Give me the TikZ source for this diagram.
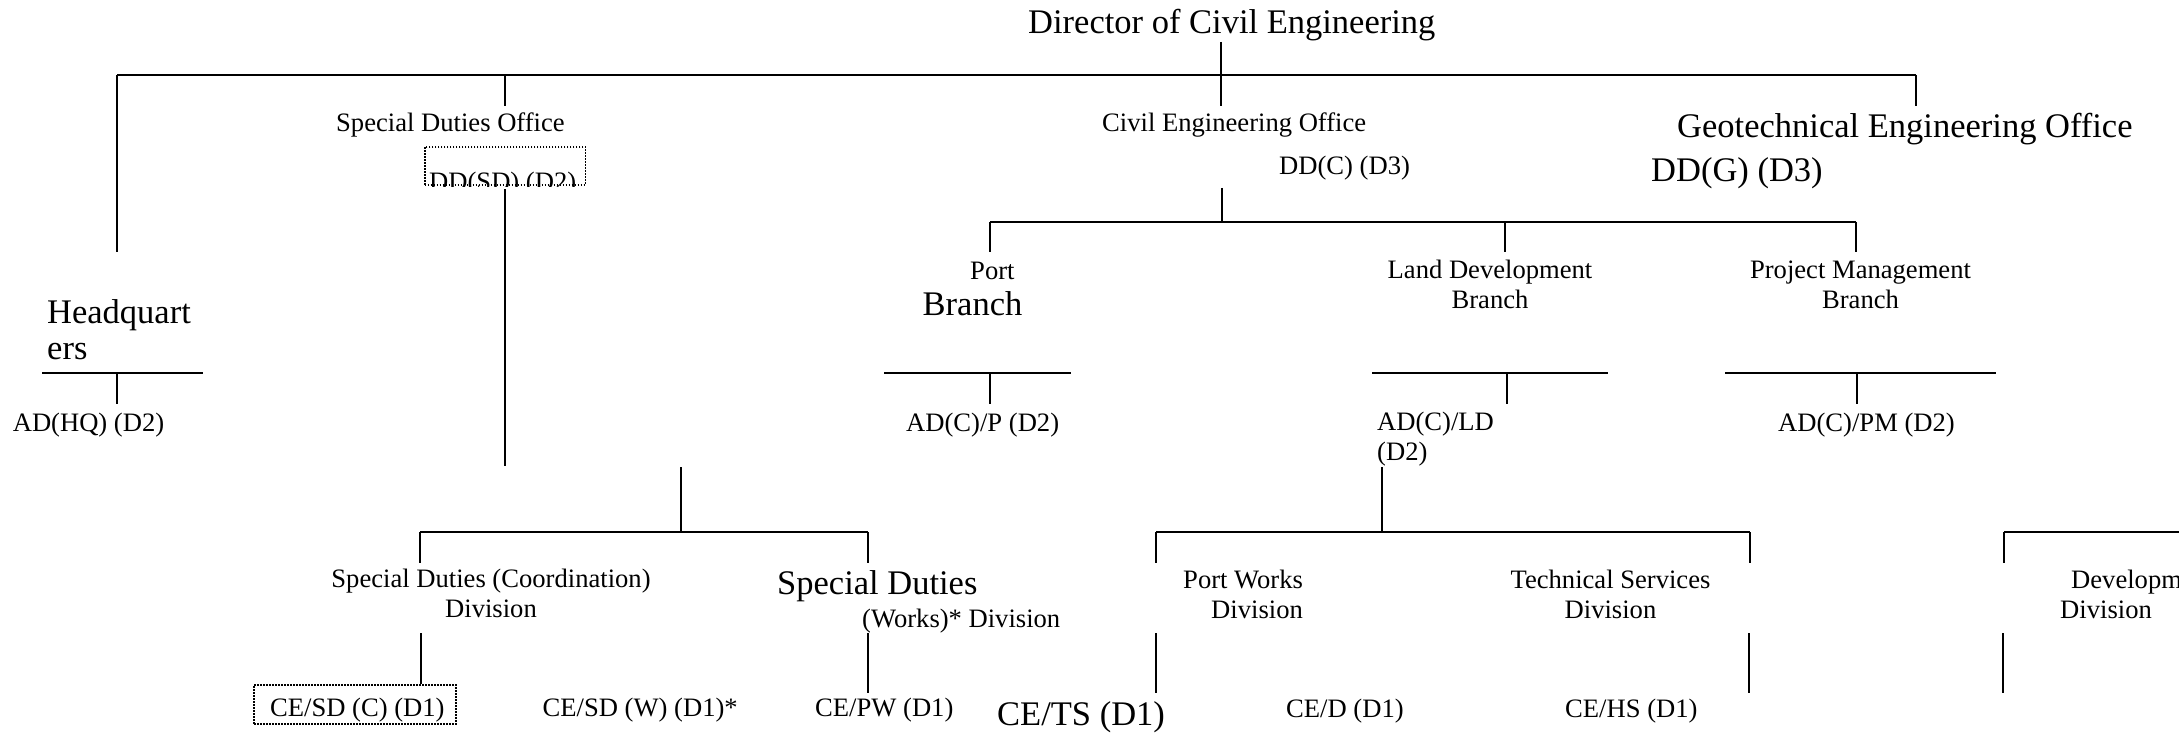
\documentclass[tikz,border=0pt]{standalone}
\usepackage{fontspec}
\setmainfont{Liberation Serif}
\usetikzlibrary{calc}

\newcommand{\orgsmall}{\fontsize{26.6}{29.5}\selectfont}
\newcommand{\orglarge}{\fontsize{34.5}{36}\selectfont}

\begin{document}
\begin{tikzpicture}[x=1pt, y=-1pt,
        orgtxt/.style={font=\orgsmall, inner sep=0pt, anchor=base west},
        orgbig/.style={font=\orglarge, inner sep=0pt, anchor=base west},
        bus/.style={line width=2.5pt},
        stem/.style={line width=2pt},
        dotbox/.style={draw, line width=1.6pt, dash pattern=on 1.6pt off 1.4pt, inner sep=0pt}]

    \path[use as bounding box, clip] (0,0) rectangle (2179,738);

    % Director
    \node (Director) at (1028,33.5) [orgbig]{Director of Civil Engineering};
    \coordinate (DirStemTop) at (1221,42);
    \coordinate (DirStemBot) at (1221,106);
    \draw[stem] (DirStemTop) -- (DirStemBot);

    % Top bus
    \coordinate (TopBusL) at (117,75);
    \coordinate (TopBusR) at (1916,75);
    \coordinate (SDOStemTop) at (505,75);
    \draw[bus] (TopBusL) -- (TopBusR);
    \draw[stem] (TopBusL) -- ($(TopBusL)+(0,177)$);
    \draw[stem] (SDOStemTop) -- ($(SDOStemTop)+(0,31)$);
    \draw[stem] (TopBusR) -- ($(TopBusR)+(0,31)$);

    %%%%%%%%%%%%%%%%%%%
    % Headquarters (multi-line nodes sit on their last line)
    \node (Headquarters) at (47,359) [orgbig, align=left]{Headquart\\ers};
    \coordinate (HQBarL) at (42,373);
    \coordinate (HQBarR) at (203,373);
    \coordinate (HQStem) at (117,373);
    \draw[bus] (HQBarL) -- (HQBarR);
    \draw[stem] (HQStem) -- ($(HQStem)+(0,31)$);
    \node (ADHQ) at (12.6,431) [orgtxt]{AD(HQ) (D2)};

    %%%%%%%%%%%%%%%%%%%
    % Special Duties Office
    \node (SDOffice) at (336,132) [orgtxt]{Special Duties Office};
    \node (DDSD-Box) at (505,166) [dotbox, minimum width=160.6pt, minimum height=38.5pt]{};
    \begin{scope}
        \clip (DDSD-Box.south west) rectangle (DDSD-Box.north east);
        \node (DDSD) at (429,190.6) [orgtxt]{DD(SD) (D2)};
    \end{scope}
    \coordinate (SDStemEnd) at (505,466);
    \draw[stem] ($(DDSD-Box.south)+(0,3)$) -- (SDStemEnd);

    % Special Duties divisions
    \coordinate (SDBusStem) at (681,467);
    \coordinate (SDBusL) at (420,532);
    \coordinate (SDBusR) at (868,532);
    \draw[stem] (SDBusStem) -- (SDBusStem |- SDBusL);
    \draw[bus] (SDBusL) -- (SDBusR);
    \draw[stem] (SDBusL) -- ($(SDBusL)+(0,31)$);
    \draw[stem] (SDBusR) -- ($(SDBusR)+(0,31)$);

    \node (SDCoord) at (491,617) [orgtxt, anchor=base, align=center]{Special Duties (Coordination)\\Division};
    \node (SDWorks) at (777,594) [orgbig]{Special Duties};
    \node (SDWorks-2) at (862,627) [orgtxt]{(Works)* Division};

    \node (CESDC-Box) at (355,704.5) [dotbox, minimum width=202pt, minimum height=39pt]{};
    \node (CESDC) at (270,716) [orgtxt]{CE/SD (C) (D1)};
    \coordinate (SDCStem) at (421,633);
    \draw[stem] (SDCStem) -- (SDCStem |- CESDC-Box.north);
    \node (CESDW) at (542.5,716.5) [orgtxt]{CE/SD (W) (D1)*};
    \coordinate (SDWStem) at (868,633);
    \draw[stem] (SDWStem) -- ($(SDWStem)+(0,60)$);
    \node (CEPW) at (815,716.5) [orgtxt]{CE/PW (D1)};

    %%%%%%%%%%%%%%%%%%%
    % Civil Engineering Office
    \node (CEOffice) at (1102,132) [orgtxt]{Civil Engineering Office};
    \node (DDC) at (1279,175) [orgtxt]{DD(C) (D3)};
    \coordinate (CEOStem) at (1222,188);
    \coordinate (CEOBusL) at (990,222);
    \coordinate (CEOBusM) at (1505,222);
    \coordinate (CEOBusR) at (1856,222);
    \draw[stem] (CEOStem) -- (CEOStem |- CEOBusL);
    \draw[bus] (CEOBusL) -- (CEOBusR);
    \draw[stem] (CEOBusL) -- ($(CEOBusL)+(0,30)$);
    \draw[stem] (CEOBusM) -- ($(CEOBusM)+(0,30)$);
    \draw[stem] (CEOBusR) -- ($(CEOBusR)+(0,30)$);

    % Port Branch
    \node (Port) at (970,279) [orgtxt]{Port};
    \node (PortBranch) at (922.5,315) [orgbig]{Branch};
    \coordinate (PBarL) at (884,373);
    \coordinate (PBarR) at (1071,373);
    \coordinate (PStem) at (990,373);
    \draw[bus] (PBarL) -- (PBarR);
    \draw[stem] (PStem) -- ($(PStem)+(0,31)$);
    \node (ADCP) at (906,431) [orgtxt]{AD(C)/P (D2)};

    % Land Development Branch
    \node (LDBranch) at (1490,308) [orgtxt, anchor=base, align=center]{Land Development\\Branch};
    \coordinate (LDBarL) at (1372,373);
    \coordinate (LDBarR) at (1608,373);
    \coordinate (LDStem) at (1507,373);
    \draw[bus] (LDBarL) -- (LDBarR);
    \draw[stem] (LDStem) -- ($(LDStem)+(0,31)$);
    \node (ADCLD) at (1377,460) [orgtxt, align=left]{AD(C)/LD\\(D2)};

    % Project Management Branch
    \node (PMBranch) at (1860.5,308) [orgtxt, anchor=base, align=center]{Project Management\\Branch};
    \coordinate (PMBarL) at (1725,373);
    \coordinate (PMBarR) at (1996,373);
    \coordinate (PMStem) at (1857,373);
    \draw[bus] (PMBarL) -- (PMBarR);
    \draw[stem] (PMStem) -- ($(PMStem)+(0,31)$);
    \node (ADCPM) at (1778,431) [orgtxt]{AD(C)/PM (D2)};

    %%%%%%%%%%%%%%%%%%%
    % Land Development divisions
    \coordinate (LDDownStem) at (1382,467);
    \coordinate (PWBusL) at (1156,532);
    \coordinate (PWBusR) at (1750,532);
    \draw[stem] (LDDownStem) -- (LDDownStem |- PWBusL);
    \draw[bus] (PWBusL) -- (PWBusR);
    \draw[stem] (PWBusL) -- ($(PWBusL)+(0,31)$);
    \draw[stem] (PWBusR) -- ($(PWBusR)+(0,31)$);

    \node (PWDiv) at (1183,618) [orgtxt, align=left]{Port Works\\\hspace*{28pt}Division};
    \node (TSDiv) at (1610.5,618) [orgtxt, anchor=base, align=center]{Technical Services\\Division};
    \coordinate (PWStem) at (1156,633);
    \coordinate (TSStem) at (1749,633);
    \draw[stem] (PWStem) -- ($(PWStem)+(0,60)$);
    \draw[stem] (TSStem) -- ($(TSStem)+(0,60)$);

    \node (CETS) at (997,725) [orgbig]{CE/TS (D1)};
    \node (CED) at (1286,717) [orgtxt]{CE/D (D1)};
    \node (CEHS) at (1565,717) [orgtxt]{CE/HS (D1)};

    % Development Division
    \coordinate (DevBusL) at (2004,532);
    \coordinate (DevBusR) at (2179,532);
    \draw[bus] (DevBusL) -- (DevBusR);
    \draw[stem] (DevBusL) -- ($(DevBusL)+(0,31)$);
    \node (DevDiv) at (2060,618) [orgtxt, align=left]{\hspace*{11pt}Development\\Division};
    \coordinate (DevStem) at (2003,633);
    \draw[stem] (DevStem) -- ($(DevStem)+(0,60)$);

    %%%%%%%%%%%%%%%%%%%
    % Geotechnical Engineering Office
    \node (GEOffice) at (1677,138) [orgbig]{Geotechnical Engineering Office};
    \node (DDG) at (1651,182) [orgbig]{DD(G) (D3)};

\end{tikzpicture}
\end{document}
